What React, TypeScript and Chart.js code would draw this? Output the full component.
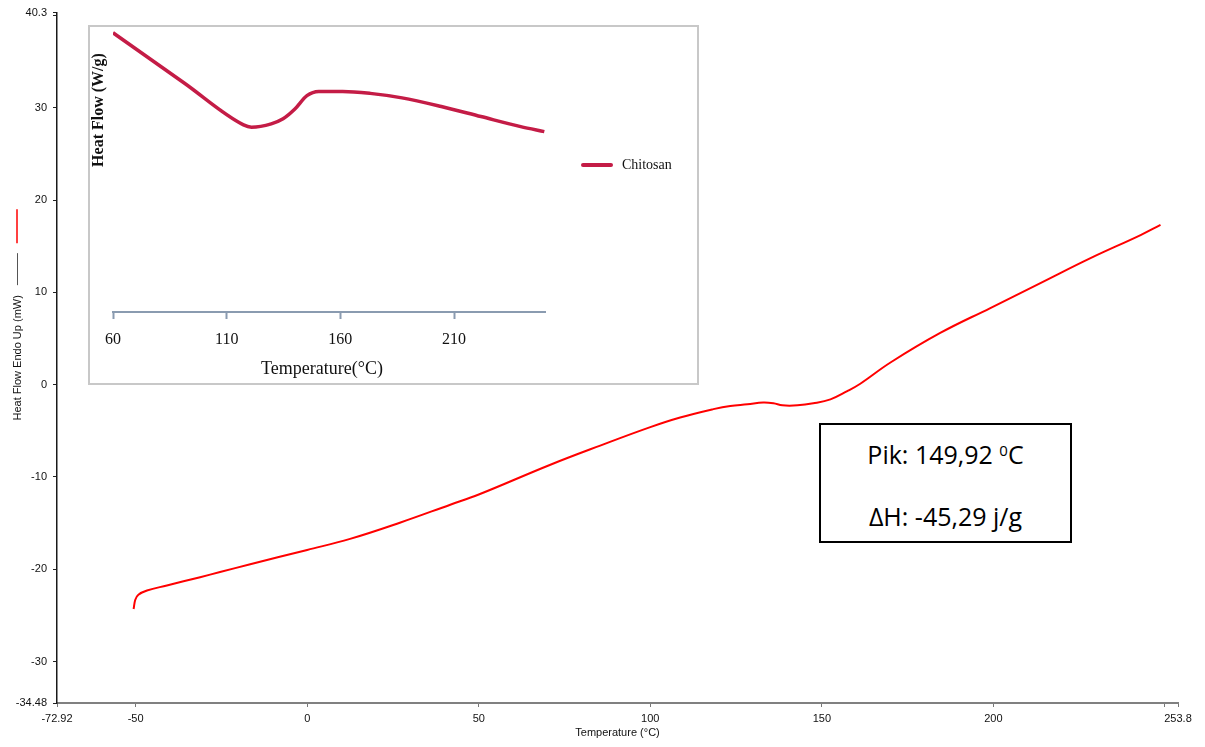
import React, { useEffect, useRef } from 'react';
import { Chart, registerables } from 'chart.js';

Chart.register(...registerables);

// ---- Main DSC curve (Temperature °C vs Heat Flow mW) ----
const MAIN_TEMP = [
  -50.6, -50.1, -49.2, -46.7, -40.9, -31.2, -25.4, -16.6, 0, 12.5, 27, 41.7, 50, 70.7, 85.4, 100,
  108.7, 118.4, 123.3, 128.3, 132.9, 135.9, 138.5, 142.9, 147.5, 152.5, 157.4, 161.2, 170, 184.5,
  199.1, 213.7, 228.3, 242.9, 248.7,
];
const MAIN_HEAT = [
  -24.3, -23.3, -22.75, -22.3, -21.75, -20.85, -20.3, -19.45, -17.9, -16.7, -14.95, -13.0, -11.9, -8.7, -6.6, -4.6,
  -3.56, -2.65, -2.3, -2.13, -1.94, -2.02, -2.24, -2.24, -2.02, -1.59, -0.7, 0.1, 2.4, 5.6,
  8.3, 11.0, 13.7, 16.2, 17.3,
];
const X_TICKS = [-72.92, -50, 0, 50, 100, 150, 200, 250, 253.8];
const X_TICK_LABELS = ['-72.92', '-50', '0', '50', '100', '150', '200', '', '253.8'];
const Y_TICKS = [-34.48, -30, -20, -10, 0, 10, 20, 30, 40, 40.3];
const Y_TICK_LABELS = ['-34.48', '-30', '-20', '-10', '0', '10', '20', '30', '', '40.3'];

// ---- Inset curve (Chitosan, arbitrary heat-flow units) ----
const INSET_TEMP = [60, 91.3, 117.4, 120.9, 129.6, 134.8, 140.0, 145.3, 150.5, 161.0, 173.1, 187.1, 204.4, 221.8, 239.3, 249.7];
const INSET_HEAT = [10.0, 8.2, 6.7, 6.62, 6.74, 6.92, 7.27, 7.75, 7.9, 7.9, 7.83, 7.67, 7.36, 7.0, 6.64, 6.46];
const INSET_TICKS = [60, 110, 160, 210];

const SANS = '"Liberation Sans", Arial, sans-serif';
const SERIF = '"Liberation Serif", "Times New Roman", serif';
const INSET_RED = '#c41c46';

export default function App() {
  const mainRef = useRef<HTMLCanvasElement | null>(null);
  const insetRef = useRef<HTMLCanvasElement | null>(null);

  useEffect(() => {
    if (!mainRef.current || !insetRef.current) return;

    const yLegendMarks = {
      id: 'yLegendMarks',
      afterDraw(chart: any) {
        const { ctx, chartArea } = chart;
        const cy = (chartArea.top + chartArea.bottom) / 2;
        ctx.save();
        ctx.font = `11px ${SANS}`;
        const half = ctx.measureText('Heat Flow Endo Up (mW)').width / 2;
        const textTop = cy - half;
        const x = 17;
        ctx.strokeStyle = '#555';
        ctx.lineWidth = 1;
        ctx.beginPath();
        ctx.moveTo(x + 0.5, textTop - 10);
        ctx.lineTo(x + 0.5, textTop - 42);
        ctx.stroke();
        ctx.strokeStyle = '#ff0000';
        ctx.lineWidth = 1.5;
        ctx.beginPath();
        ctx.moveTo(x, textTop - 52);
        ctx.lineTo(x, textTop - 86);
        ctx.stroke();
        ctx.restore();
      },
    };

    const main = new Chart(mainRef.current, {
      type: 'line',
      data: {
        datasets: [
          {
            data: MAIN_TEMP.map((t, i) => ({ x: t, y: MAIN_HEAT[i] })),
            borderColor: '#ff0000',
            borderWidth: 2,
            pointRadius: 0,
            fill: false,
            tension: 0.4,
          },
        ],
      },
      options: {
        responsive: false,
        animation: false,
        layout: { padding: { left: 0, top: 11, right: 27, bottom: 0 } },
        plugins: { legend: { display: false }, tooltip: { enabled: false } },
        scales: {
          x: {
            type: 'linear',
            min: -72.92,
            max: 253.8,
            afterBuildTicks: (s: any) => {
              s.ticks = X_TICKS.map((v) => ({ value: v }));
            },
            afterFit: (s: any) => {
              s.height = 44;
            },
            ticks: {
              autoSkip: false,
              maxRotation: 0,
              padding: 5,
              color: '#111',
              font: { family: SANS, size: 11 },
              callback: (v: any) => X_TICK_LABELS[X_TICKS.indexOf(Number(v))] ?? '',
            },
            grid: { drawOnChartArea: false, drawTicks: true, tickLength: 4, color: '#777', tickWidth: 1 },
            border: { display: true, color: '#808080', width: 2 },
            title: {
              display: true,
              text: 'Temperature (°C)',
              color: '#111',
              font: { family: SANS, size: 11 },
              padding: { top: 0, bottom: 7 },
            },
          },
          y: {
            type: 'linear',
            min: -34.48,
            max: 40.3,
            afterBuildTicks: (s: any) => {
              s.ticks = Y_TICKS.map((v) => ({ value: v }));
            },
            afterFit: (s: any) => {
              s.width = 57;
            },
            ticks: {
              autoSkip: false,
              padding: 6,
              color: '#111',
              font: { family: SANS, size: 11 },
              callback: (v: any) => Y_TICK_LABELS[Y_TICKS.indexOf(Number(v))] ?? '',
            },
            grid: { drawOnChartArea: false, drawTicks: true, tickLength: 4, color: '#222', tickWidth: 1 },
            border: { display: true, color: '#1a1a1a', width: 1.5 },
            title: {
              display: true,
              text: 'Heat Flow Endo Up (mW)',
              color: '#111',
              font: { family: SANS, size: 11 },
              padding: { top: 11.4, bottom: 0 },
            },
          },
        },
      },
      plugins: [yLegendMarks],
    } as any);

    const insetDecor = {
      id: 'insetDecor',
      afterDraw(chart: any) {
        const { ctx, chartArea } = chart;
        ctx.save();
        ctx.fillStyle = '#111';
        // y title
        ctx.font = `bold 16px ${SERIF}`;
        ctx.textAlign = 'center';
        ctx.textBaseline = 'middle';
        ctx.save();
        ctx.translate(chartArea.left - 14, chartArea.top + 80);
        ctx.rotate(-Math.PI / 2);
        ctx.fillText('Heat Flow (W/g)', 0, 0);
        ctx.restore();
        // x title
        ctx.font = `18px ${SERIF}`;
        ctx.fillText('Temperature(°C)', (chartArea.left + chartArea.right) / 2 - 7, chartArea.bottom + 57);
        // legend
        const ly = chartArea.top + 135;
        ctx.strokeStyle = INSET_RED;
        ctx.lineWidth = 4;
        ctx.lineCap = 'round';
        ctx.beginPath();
        ctx.moveTo(chartArea.right + 38, ly);
        ctx.lineTo(chartArea.right + 66, ly);
        ctx.stroke();
        ctx.font = `14px ${SERIF}`;
        ctx.textAlign = 'left';
        ctx.fillText('Chitosan', chartArea.right + 77, ly);
        ctx.restore();
      },
    };

    const inset = new Chart(insetRef.current, {
      type: 'line',
      data: {
        datasets: [
          {
            label: 'Chitosan',
            data: INSET_TEMP.map((t, i) => ({ x: t, y: INSET_HEAT[i] })),
            borderColor: INSET_RED,
            borderWidth: 3.5,
            pointRadius: 0,
            fill: false,
            cubicInterpolationMode: 'monotone',
          },
        ],
      },
      options: {
        responsive: false,
        animation: false,
        layout: { padding: { left: 23, top: 3, right: 152, bottom: 0 } },
        plugins: { legend: { display: false }, tooltip: { enabled: false } },
        scales: {
          x: {
            type: 'linear',
            min: 60,
            max: 250,
            afterBuildTicks: (s: any) => {
              s.ticks = INSET_TICKS.map((v) => ({ value: v }));
            },
            afterFit: (s: any) => {
              s.height = 71;
            },
            ticks: {
              autoSkip: false,
              maxRotation: 0,
              padding: 11,
              color: '#111',
              font: { family: SERIF, size: 16 },
              callback: (v: any) => String(v),
            },
            grid: { drawOnChartArea: false, drawTicks: true, tickLength: 7, color: '#8a9bb0', tickWidth: 2 },
            border: { display: true, color: '#8a9bb0', width: 2 },
          },
          y: { display: false, min: 0, max: 10.1 },
        },
      },
      plugins: [insetDecor],
    } as any);

    return () => {
      main.destroy();
      inset.destroy();
    };
  }, []);

  const lineStyle: React.CSSProperties = {
    position: 'absolute',
    left: 0,
    right: 0,
    height: 30,
    lineHeight: '30px',
    textAlign: 'center',
    whiteSpace: 'nowrap',
  };

  return (
    <div
      style={{
        position: 'fixed',
        left: 0,
        top: 0,
        width: 1205,
        height: 747,
        background: '#fff',
        overflow: 'hidden',
      }}
    >
      <canvas ref={mainRef} width={1205} height={747} style={{ position: 'absolute', left: 0, top: 0 }} />
      <div
        style={{
          position: 'absolute',
          left: 88,
          top: 25,
          width: 611,
          height: 360,
          boxSizing: 'border-box',
          border: '2px solid #c8c8c8',
          background: '#fff',
        }}
      >
        <canvas ref={insetRef} width={607} height={356} style={{ display: 'block' }} />
      </div>
      <div
        style={{
          position: 'absolute',
          left: 819,
          top: 423,
          width: 253,
          height: 120,
          boxSizing: 'border-box',
          border: '2px solid #000',
          background: '#fff',
          fontFamily: '"Open Sans", "Noto Sans", sans-serif',
          fontSize: 25,
          color: '#000',
        }}
      >
        <div style={{ ...lineStyle, top: 14 }}>
          Pik: 149,92 <span style={{ fontSize: 15, position: 'relative', top: -8 }}>0</span>C
        </div>
        <div style={{ ...lineStyle, top: 76 }}>ΔH: -45,29 j/g</div>
      </div>
    </div>
  );
}
